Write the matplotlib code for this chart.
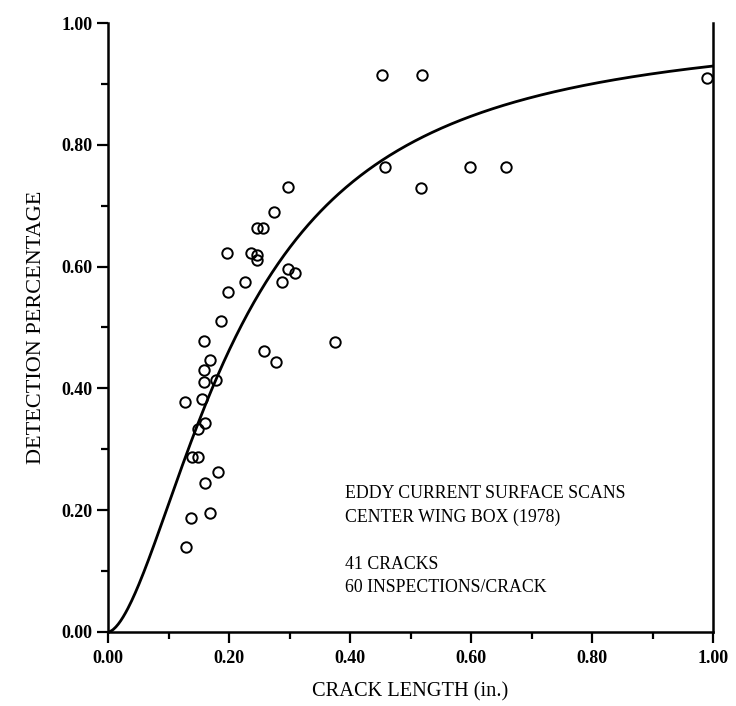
import numpy as np
import matplotlib
matplotlib.use("Agg")
import matplotlib.pyplot as plt
from matplotlib.ticker import MultipleLocator, FormatStrFormatter

# ---- data ----
crack_length = [0.297, 0.275, 0.246, 0.256, 0.196, 0.236, 0.246, 0.247,
                0.298, 0.309, 0.287, 0.226, 0.198, 0.187, 0.158, 0.258,
                0.278, 0.376, 0.169, 0.158, 0.158, 0.178, 0.127, 0.156,
                0.160, 0.149, 0.139, 0.149, 0.181, 0.160, 0.169, 0.138,
                0.129, 0.453, 0.519, 0.458, 0.517, 0.598, 0.658, 0.990]
detection = [0.731, 0.689, 0.663, 0.663, 0.623, 0.623, 0.619, 0.611,
             0.596, 0.590, 0.574, 0.574, 0.559, 0.511, 0.478, 0.461,
             0.444, 0.477, 0.447, 0.430, 0.411, 0.414, 0.378, 0.383,
             0.344, 0.334, 0.288, 0.288, 0.263, 0.245, 0.196, 0.188,
             0.140, 0.915, 0.915, 0.764, 0.729, 0.764, 0.764, 0.910]

# fitted log-logistic POD curve parameters
pod_mu = -1.52
pod_sigma = 0.59

x_ticks = [0.0, 0.2, 0.4, 0.6, 0.8, 1.0]
y_ticks = [0.0, 0.2, 0.4, 0.6, 0.8, 1.0]

annotation_lines = ["EDDY CURRENT SURFACE SCANS", "CENTER WING BOX (1978)",
                    "", "41 CRACKS", "60 INSPECTIONS/CRACK"]

serif = ["Liberation Serif", "DejaVu Serif"]
plt.rcParams["font.family"] = serif

fig = plt.figure(figsize=(7.36, 7.06), dpi=100)
ax = fig.add_axes([108/736, 1 - 632/706, (713-108)/736, (632-23)/706])

a = np.linspace(0.001, 1.0, 500)
pod = 1.0 / (1.0 + np.exp(-(np.log(a) - pod_mu) / pod_sigma))
a = np.concatenate([[0.0], a])
pod = np.concatenate([[0.0], pod])
ax.plot(a, pod, color="black", lw=2.0, solid_capstyle="round", zorder=2)

ax.plot(crack_length, detection, linestyle="none", marker="o", ms=7.5,
        mfc="none", mec="black", mew=1.4, zorder=3)

ax.set_xlim(0, 1.0)
ax.set_ylim(0, 1.0)
ax.set_xticks(x_ticks)
ax.set_yticks(y_ticks)
ax.xaxis.set_minor_locator(MultipleLocator(0.1))
ax.yaxis.set_minor_locator(MultipleLocator(0.1))
ax.xaxis.set_major_formatter(FormatStrFormatter("%.2f"))
ax.yaxis.set_major_formatter(FormatStrFormatter("%.2f"))
ax.tick_params(which="major", direction="out", length=8, width=1.6,
               labelsize=13, pad=3)
ax.tick_params(axis="x", which="major", pad=5)
ax.tick_params(which="minor", direction="out", length=5, width=1.6)
for lab in ax.get_xticklabels() + ax.get_yticklabels():
    lab.set_fontweight("bold")

ax.spines["top"].set_visible(False)
for s in ["left", "bottom", "right"]:
    ax.spines[s].set_linewidth(1.8)

ax.set_xlabel("CRACK LENGTH (in.)", fontsize=14.7, labelpad=11)
ax.set_ylabel("DETECTION PERCENTAGE", fontsize=16, labelpad=11)

y0 = 0.227
for i, line in enumerate(annotation_lines):
    ax.text(0.392, y0 - i * 0.0385, line, fontsize=12.8, va="center",
            ha="left", transform=ax.transData)

fig.savefig("out.png", dpi=100)
